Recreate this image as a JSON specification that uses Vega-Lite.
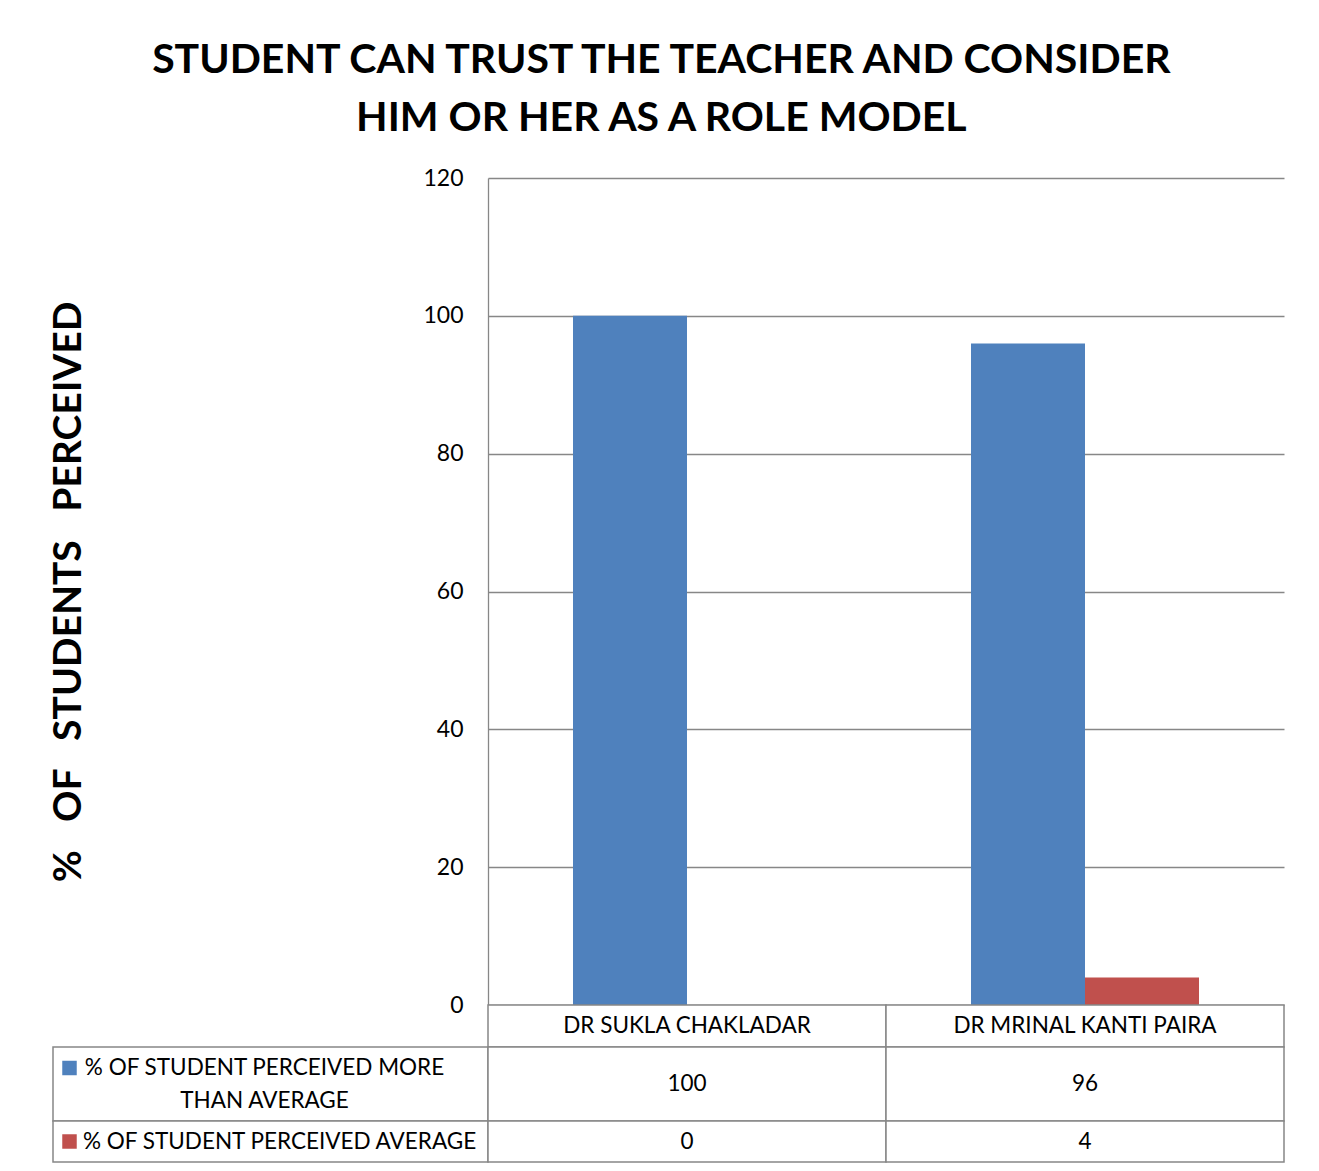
{
  "$schema": "https://vega.github.io/schema/vega-lite/v6.json",
  "background": "white",
  "padding": {"left": 49, "top": 40, "right": 30, "bottom": 5},
  "title": {
    "text": ["STUDENT CAN TRUST THE TEACHER AND CONSIDER", "HIM OR HER AS A ROLE MODEL"],
    "font": "Lato", "fontSize": 41, "fontWeight": "bold", "color": "#000",
    "lineHeight": 58, "anchor": "middle", "offset": 27, "dx": -6
  },
  "datasets": {
    "scores": [
      {"teacher": "DR SUKLA CHAKLADAR", "series": "% OF STUDENT PERCEIVED MORE THAN AVERAGE", "value": 100},
      {"teacher": "DR SUKLA CHAKLADAR", "series": "% OF STUDENT PERCEIVED AVERAGE", "value": 0},
      {"teacher": "DR MRINAL KANTI PAIRA", "series": "% OF STUDENT PERCEIVED MORE THAN AVERAGE", "value": 96},
      {"teacher": "DR MRINAL KANTI PAIRA", "series": "% OF STUDENT PERCEIVED AVERAGE", "value": 4}
    ],
    "legend": [
      {"series": "% OF STUDENT PERCEIVED MORE THAN AVERAGE", "lines": ["% OF STUDENT PERCEIVED MORE", "THAN AVERAGE"]},
      {"series": "% OF STUDENT PERCEIVED AVERAGE", "lines": ["% OF STUDENT PERCEIVED AVERAGE"]}
    ]
  },
  "columns": 2,
  "spacing": 0,
  "bounds": "flush",
  "align": "each",
  "resolve": {"scale": {"x": "independent", "y": "independent", "color": "independent", "xOffset": "independent"}},
  "concat": [
    {
      "width": 435, "height": 827,
      "data": {"values": [{}]},
      "mark": {"type": "point", "opacity": 0},
      "encoding": {}
    },
    {
      "width": 796, "height": 827,
      "data": {"name": "scores"},
      "mark": {"type": "bar"},
      "encoding": {
        "x": {"field": "teacher", "type": "nominal", "scale": {"domain": ["DR SUKLA CHAKLADAR", "DR MRINAL KANTI PAIRA"], "paddingInner": 0, "paddingOuter": 0}, "axis": null},
        "xOffset": {"field": "series", "type": "nominal", "scale": {"domain": ["% OF STUDENT PERCEIVED MORE THAN AVERAGE", "% OF STUDENT PERCEIVED AVERAGE"], "paddingInner": 0, "paddingOuter": 0.7456}},
        "y": {
          "field": "value", "type": "quantitative",
          "scale": {"domain": [0, 120], "nice": false},
          "axis": {
            "values": [0, 20, 40, 60, 80, 100, 120],
            "grid": true, "gridColor": "#878787", "gridWidth": 1.3,
            "domain": true, "domainColor": "#878787", "domainWidth": 1.3,
            "ticks": false, "labelPadding": 25,
            "labelFont": "Lato", "labelFontSize": 23, "labelColor": "#000",
            "title": "%\u00a0\u00a0 OF\u00a0\u00a0 STUDENTS\u00a0\u00a0 PERCEIVED",
            "titleFont": "Lato", "titleFontSize": 39, "titleFontWeight": "bold", "titleColor": "#000",
            "titlePadding": 334
          }
        },
        "color": {"field": "series", "type": "nominal", "scale": {"domain": ["% OF STUDENT PERCEIVED MORE THAN AVERAGE", "% OF STUDENT PERCEIVED AVERAGE"], "range": ["#4F81BD", "#C0504D"]}, "legend": null}
      }
    },
    {
      "width": 435, "height": 42,
      "data": {"values": [{}]},
      "mark": {"type": "point", "opacity": 0},
      "encoding": {}
    },
    {
      "width": 796, "height": 42,
      "data": {"name": "scores"},
      "transform": [{"filter": {"field": "series", "equal": "% OF STUDENT PERCEIVED MORE THAN AVERAGE"}}],
      "encoding": {"x": {"field": "teacher", "type": "nominal", "scale": {"domain": ["DR SUKLA CHAKLADAR", "DR MRINAL KANTI PAIRA"], "paddingInner": 0, "paddingOuter": 0}, "axis": null}},
      "layer": [
        {"mark": {"type": "rect", "fill": "white", "stroke": "#878787", "strokeWidth": 1.5}},
        {"mark": {"type": "text", "font": "Lato", "fontSize": 22.5, "color": "#000"}, "encoding": {"text": {"field": "teacher"}}}
      ]
    },
    {
      "width": 435, "height": 74,
      "data": {"name": "legend"},
      "transform": [{"filter": {"field": "series", "equal": "% OF STUDENT PERCEIVED MORE THAN AVERAGE"}}],
      "encoding": {"x": {"field": "series", "type": "nominal", "scale": {"paddingInner": 0, "paddingOuter": 0}, "axis": null}},
      "layer": [
        {"mark": {"type": "rect", "fill": "white", "stroke": "#878787", "strokeWidth": 1.5}},
        {"mark": {"type": "text", "font": "Lato", "fontSize": 22.5, "lineHeight": 33, "dx": -6, "dy": -16.5, "color": "#000"}, "encoding": {"text": {"field": "lines"}}},
        {
          "mark": {"type": "square", "size": 210, "opacity": 1, "filled": true, "xOffset": 16.5, "yOffset": -16},
          "encoding": {
            "x": {"field": "series", "type": "nominal", "bandPosition": 0},
            "color": {"field": "series", "type": "nominal", "scale": {"domain": ["% OF STUDENT PERCEIVED MORE THAN AVERAGE", "% OF STUDENT PERCEIVED AVERAGE"], "range": ["#4F81BD", "#C0504D"]}, "legend": null}
          }
        }
      ]
    },
    {
      "width": 796, "height": 74,
      "data": {"name": "scores"},
      "transform": [{"filter": {"field": "series", "equal": "% OF STUDENT PERCEIVED MORE THAN AVERAGE"}}],
      "encoding": {"x": {"field": "teacher", "type": "nominal", "scale": {"domain": ["DR SUKLA CHAKLADAR", "DR MRINAL KANTI PAIRA"], "paddingInner": 0, "paddingOuter": 0}, "axis": null}},
      "layer": [
        {"mark": {"type": "rect", "fill": "white", "stroke": "#878787", "strokeWidth": 1.5}},
        {"mark": {"type": "text", "font": "Lato", "fontSize": 22.5, "color": "#000"}, "encoding": {"text": {"field": "value", "type": "quantitative"}}}
      ]
    },
    {
      "width": 435, "height": 41,
      "data": {"name": "legend"},
      "transform": [{"filter": {"field": "series", "equal": "% OF STUDENT PERCEIVED AVERAGE"}}],
      "encoding": {"x": {"field": "series", "type": "nominal", "scale": {"paddingInner": 0, "paddingOuter": 0}, "axis": null}},
      "layer": [
        {"mark": {"type": "rect", "fill": "white", "stroke": "#878787", "strokeWidth": 1.5}},
        {"mark": {"type": "text", "font": "Lato", "fontSize": 22.5, "align": "left", "dx": 30, "color": "#000"}, "encoding": {"x": {"field": "series", "type": "nominal", "bandPosition": 0}, "text": {"field": "lines"}}},
        {
          "mark": {"type": "square", "size": 210, "opacity": 1, "filled": true, "xOffset": 16.5},
          "encoding": {
            "x": {"field": "series", "type": "nominal", "bandPosition": 0},
            "color": {"field": "series", "type": "nominal", "scale": {"domain": ["% OF STUDENT PERCEIVED MORE THAN AVERAGE", "% OF STUDENT PERCEIVED AVERAGE"], "range": ["#4F81BD", "#C0504D"]}, "legend": null}
          }
        }
      ]
    },
    {
      "width": 796, "height": 41,
      "data": {"name": "scores"},
      "transform": [{"filter": {"field": "series", "equal": "% OF STUDENT PERCEIVED AVERAGE"}}],
      "encoding": {"x": {"field": "teacher", "type": "nominal", "scale": {"domain": ["DR SUKLA CHAKLADAR", "DR MRINAL KANTI PAIRA"], "paddingInner": 0, "paddingOuter": 0}, "axis": null}},
      "layer": [
        {"mark": {"type": "rect", "fill": "white", "stroke": "#878787", "strokeWidth": 1.5}},
        {"mark": {"type": "text", "font": "Lato", "fontSize": 22.5, "color": "#000"}, "encoding": {"text": {"field": "value", "type": "quantitative"}}}
      ]
    }
  ],
  "config": {
    "font": "Lato",
    "view": {"stroke": null}
  }
}
